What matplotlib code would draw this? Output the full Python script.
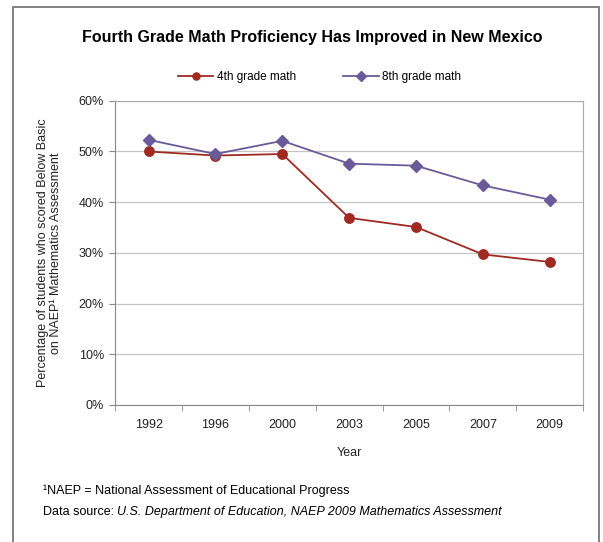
import matplotlib.pyplot as plt
from matplotlib.patches import Rectangle
from matplotlib.ticker import FixedLocator, PercentFormatter

plt.rcParams['font.family'] = ['Liberation Sans', 'DejaVu Sans']

years = ['1992', '1996', '2000', '2003', '2005', '2007', '2009']
grade4 = [50.0, 49.2, 49.5, 36.9, 35.1, 29.7, 28.2]
grade8 = [52.3, 49.5, 52.1, 47.6, 47.2, 43.3, 40.5]

fig = plt.figure(figsize=(6.03, 5.42), dpi=100)
ax = fig.add_axes([0.191, 0.253, 0.776, 0.561])

x = list(range(len(years)))
ax.plot(x, grade4, color='#9e2a22', marker='o', markersize=6.8, linewidth=1.3,
        label='4th grade math')
ax.plot(x, grade8, color='#6a5a9a', marker='D', markersize=6.3, linewidth=1.3,
        label='8th grade math')

ax.set_xlim(-0.5, len(years) - 0.5)
ax.set_ylim(0, 60)
ax.set_yticks(range(0, 61, 10))
ax.yaxis.set_major_formatter(PercentFormatter(decimals=0))
ax.set_xticks(x)
ax.set_xticklabels(years)
ax.xaxis.set_minor_locator(FixedLocator([i - 0.5 for i in range(len(years) + 1)]))
ax.tick_params(axis='x', which='major', length=0, pad=10, labelsize=9, labelcolor='#222222')
ax.tick_params(axis='x', which='minor', length=4, color='#888888')
ax.tick_params(axis='y', length=4, color='#888888', labelsize=9, pad=4, labelcolor='#222222')
ax.grid(axis='y', color='#c4c4c4', linewidth=0.9)
ax.set_axisbelow(True)
for s in ax.spines.values():
    s.set_color('#aaaaaa')
ax.spines['left'].set_color('#888888')
ax.spines['bottom'].set_color('#888888')

ax.set_xlabel('Year', fontsize=9, labelpad=12, color='#222222')
ax.set_ylabel('Percentage of students who scored Below Basic\non NAEP¹ Mathematics Assessment',
              fontsize=9, labelpad=12, linespacing=1.1, color='#222222')

fig.text(0.517, 0.93, 'Fourth Grade Math Proficiency Has Improved in New Mexico',
         ha='center', va='center', fontsize=11.5, fontweight='bold')
fig.legend(loc='center', bbox_to_anchor=(0.53, 0.858), ncol=2, frameon=False,
           fontsize=8.5, handlelength=3, columnspacing=4, handletextpad=0.3,
           markerscale=0.75)

fig.text(0.071, 0.094, '¹NAEP = National Assessment of Educational Progress',
         fontsize=9, va='center')
src = fig.text(0.071, 0.055, 'Data source: ', fontsize=9, va='center')
fig.canvas.draw()
bb = src.get_window_extent().transformed(fig.transFigure.inverted())
fig.text(bb.x1, 0.055, 'U.S. Department of Education, NAEP 2009 Mathematics Assessment',
         fontsize=9, va='center', style='italic')

fig.patches.append(Rectangle((0.022, -0.05), 0.972, 1.037, transform=fig.transFigure,
                             fill=False, edgecolor='#777777', linewidth=1.3))

fig.savefig('out.png', dpi=100)
